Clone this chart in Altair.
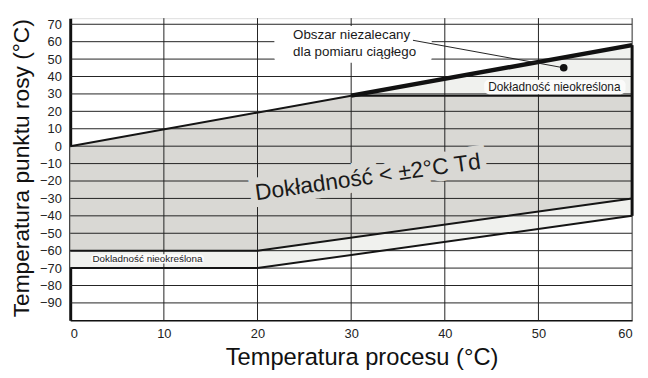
import altair as alt
import pandas as pd

FONT = "Liberation Sans"

# ---- data ----
gray_x = [0, 20, 30, 60]
gray_top = [0, 19.33, 29, 29]
gray_bottom = [-60, -60, -52.5, -30]

upper_x = [30, 60]
upper_top = [29, 58]
upper_bottom = [29, 29]

lower_x = [0, 20, 60]
lower_top = [-60, -60, -30]
lower_bottom = [-70, -70, -40]

thin_seg = ["a", "a", "b", "b", "c", "c", "c", "d", "d", "d"]
thin_x = [0, 30, 30, 60, 0, 20, 60, 0, 20, 60]
thin_y = [0, 29, 29, 29, -60, -60, -30, -70, -70, -40]

thick_x = [30, 60]
thick_y = [29, 58]

grid_y = [-90, -80, -70, -60, -50, -40, -30, -20, -10, 0, 10, 20, 30, 40, 50, 60, 70]
grid_x = [10, 20, 30, 40, 50]
x_ticks = [0, 10, 20, 30, 40, 50, 60]

x_min, x_max = 0, 60
y_min, y_max = -100, 73.5

# label boxes (data coords)
box_x = [21.8, 44.2, 2.2]
box_x2 = [38.6, 59.3, 14.3]
box_y = [69.0, 38.2, -62.0]
box_y2 = [47.9, 29.8, -67.4]

# texts
ann_text = ["Obszar niezalecany", "dla pomiaru ciągłego"]
ann_x = [23.8, 23.8]
ann_y = [63.8, 54.1]

right_label = "Dokładność nieokreślona"
right_label_x, right_label_y = 51.7, 34.0
left_label = "Dokladność nieokreślona"
left_label_x, left_label_y = 8.25, -64.7
center_label = "Dokładność < ±2°C Td"
center_x, center_y = 31.8, -18.0

leader_x = [36.6, 52.7]
leader_y = [60.8, 45.0]
dot_x, dot_y = [52.7], [45.0]

X = alt.Scale(domain=[x_min, x_max], nice=False, zero=False)
Y = alt.Scale(domain=[y_min, y_max], nice=False, zero=False)

AX = alt.Axis(
    values=x_ticks, grid=False, ticks=False, domain=True, domainColor="#111",
    domainWidth=1.5, labelFontSize=13, labelColor="#222", labelFont=FONT,
    labelPadding=7, title="Temperatura procesu (°C)", titleFont=FONT,
    titleFontSize=24, titleFontWeight="normal", titleColor="#111",
    titleBaseline="alphabetic", titleY=45, titleX=295, titleAlign="center",
    titleAnchor="start")
AY = alt.Axis(
    values=grid_y, grid=False, ticks=False, domain=True, domainColor="#111",
    domainWidth=3, labelFontSize=13, labelColor="#222", labelFont=FONT,
    labelPadding=9, title="Temperatura punktu rosy (°C)", titleFont=FONT,
    titleFontSize=23, titleFontWeight="normal", titleColor="#111",
    titleAngle=270, titleBaseline="alphabetic", titleAlign="center",
    titleX=-42, titleY=151.5, titleAnchor="start")


def ex(f):
    return alt.X(f, type="quantitative", scale=X, axis=AX)


def ey(f):
    return alt.Y(f, type="quantitative", scale=Y, axis=AY)


def area_layer(xs, top, bot, color):
    df = pd.DataFrame({"x": xs, "top": top, "bot": bot})
    return alt.Chart(df).mark_area(color=color, opacity=1).encode(
        x=ex("x"), y=ey("top"), y2="bot:Q")


gray = area_layer(gray_x, gray_top, gray_bottom, "#d9d8d4")
upper = area_layer(upper_x, upper_top, upper_bottom, "#f0f1ee")
lower = area_layer(lower_x, lower_top, lower_bottom, "#f0f1ee")

hgrid = alt.Chart(pd.DataFrame({"y": grid_y, "a": x_min, "b": x_max})).mark_rule(
    color="#222", strokeWidth=1).encode(y=ey("y"), x=ex("a"), x2="b:Q")
vgrid = alt.Chart(pd.DataFrame({"x": grid_x, "a": y_min, "b": y_max})).mark_rule(
    color="#222", strokeWidth=1).encode(x=ex("x"), y=ey("a"), y2="b:Q")

right_thin = alt.Chart(pd.DataFrame({"x": [x_max], "a": [y_min], "b": [y_max]})).mark_rule(
    color="#333", strokeWidth=1).encode(x=ex("x"), y=ey("a"), y2="b:Q")
right_thick = alt.Chart(pd.DataFrame({"x": [x_max], "a": [-40], "b": [58]})).mark_rule(
    color="#111", strokeWidth=3).encode(x=ex("x"), y=ey("a"), y2="b:Q")

thin_lines = alt.Chart(pd.DataFrame({"s": thin_seg, "x": thin_x, "y": thin_y})).mark_line(
    color="#151515", strokeWidth=2).encode(x=ex("x"), y=ey("y"), detail="s:N")
thick_line = alt.Chart(pd.DataFrame({"x": thick_x, "y": thick_y})).mark_line(
    color="#111", strokeWidth=4.5).encode(x=ex("x"), y=ey("y"))

boxes = alt.Chart(pd.DataFrame({"x": box_x, "x2": box_x2, "y": box_y, "y2": box_y2,
                                "c": ["a", "b", "c"]})).mark_rect(cornerRadius=5).encode(
    x=ex("x"), x2="x2:Q", y=ey("y"), y2="y2:Q",
    color=alt.Color("c:N", scale=alt.Scale(domain=["a", "b", "c"],
                                           range=["#ffffff", "#fbfbfa", "#fbfbfa"]),
                    legend=None),
)

ann = alt.Chart(pd.DataFrame({"t": ann_text, "x": ann_x, "y": ann_y})).mark_text(
    font=FONT, fontSize=13.5, align="left", baseline="middle", color="#1a1a1a").encode(
    x=ex("x"), y=ey("y"), text="t:N")

leader = alt.Chart(pd.DataFrame({"x": leader_x, "y": leader_y})).mark_line(
    color="#222", strokeWidth=1).encode(x=ex("x"), y=ey("y"))
dot = alt.Chart(pd.DataFrame({"x": dot_x, "y": dot_y})).mark_point(
    filled=True, color="#111", size=60, opacity=1).encode(x=ex("x"), y=ey("y"))

rlabel = alt.Chart(pd.DataFrame({"t": [right_label], "x": [right_label_x], "y": [right_label_y]})).mark_text(
    font=FONT, fontSize=12, align="center", baseline="middle", color="#1a1a1a").encode(
    x=ex("x"), y=ey("y"), text="t:N")
llabel = alt.Chart(pd.DataFrame({"t": [left_label], "x": [left_label_x], "y": [left_label_y]})).mark_text(
    font=FONT, fontSize=10, align="center", baseline="middle", color="#1a1a1a").encode(
    x=ex("x"), y=ey("y"), text="t:N")

cdf = pd.DataFrame({"t": [center_label], "x": [center_x], "y": [center_y]})
center_halo = alt.Chart(cdf).mark_text(
    font=FONT, fontSize=23, align="center", baseline="middle", angle=352,
    color="#d9d8d4", stroke="#d9d8d4", strokeWidth=14).encode(
    x=ex("x"), y=ey("y"), text="t:N")
center_text = alt.Chart(cdf).mark_text(
    font=FONT, fontSize=23, align="center", baseline="middle", angle=352,
    color="#1a1a1a").encode(x=ex("x"), y=ey("y"), text="t:N")

chart = alt.layer(
    gray, upper, lower, hgrid, vgrid, right_thin, right_thick,
    thin_lines, thick_line, boxes, center_halo, center_text, ann, leader, dot,
    rlabel, llabel,
).properties(
    width=569, height=306,
    autosize=alt.AutoSizeParams(type="none"),
    padding={"left": 63, "top": 8, "right": 8, "bottom": 48},
).configure_view(stroke=None).configure(background="white")

chart.save("out.html", embed_options={"renderer": "svg", "actions": False})
